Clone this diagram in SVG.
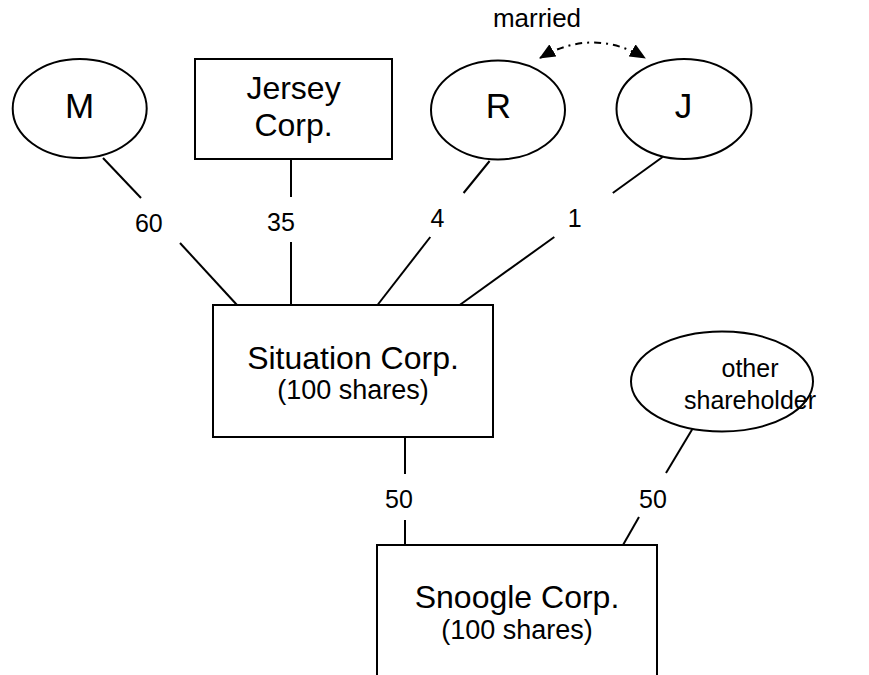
<svg xmlns="http://www.w3.org/2000/svg" width="869" height="675" viewBox="0 0 869 675">
<style>
.shape{fill:#fff;stroke:#000;stroke-width:2}
.ln{stroke:#000;stroke-width:2;fill:none}
text{font-family:"Liberation Sans",Arial,sans-serif;fill:#000;text-anchor:middle}
.big{font-size:35px}
.nm{font-size:32px}
.sub{font-size:27px}
.lbl{font-size:25px}
</style>
<defs>
<marker id="ah" viewBox="0 0 16 14" refX="15" refY="7" markerWidth="16" markerHeight="14" markerUnits="userSpaceOnUse" orient="auto-start-reverse">
<path d="M0,0 L16,7 L0,14 Z" fill="#000"/>
</marker>
</defs>
<rect width="869" height="675" fill="#fff"/>
<g id="connectors">
<line class="ln" x1="103" y1="158" x2="141" y2="198"/>
<line class="ln" x1="180" y1="243" x2="237" y2="305"/>
<line class="ln" x1="291" y1="159" x2="291" y2="197"/>
<line class="ln" x1="291" y1="242" x2="291" y2="305"/>
<line class="ln" x1="489.6" y1="161" x2="463.6" y2="193"/>
<line class="ln" x1="430.3" y1="237" x2="377.5" y2="305"/>
<line class="ln" x1="662.6" y1="157" x2="612.8" y2="193"/>
<line class="ln" x1="554.3" y1="237" x2="459.7" y2="305"/>
<line class="ln" x1="405" y1="437" x2="405" y2="474"/>
<line class="ln" x1="405" y1="520" x2="405" y2="545"/>
<line class="ln" x1="693" y1="428" x2="666" y2="473"/>
<line class="ln" x1="639" y1="517" x2="623" y2="545"/>
<path class="ln" d="M540,58 Q592.5,27 645,58" stroke-dasharray="7 5 2 5" marker-start="url(#ah)" marker-end="url(#ah)"/>
<text class="lbl" x="148.8" y="232">60</text>
<text class="lbl" x="281" y="231">35</text>
<text class="lbl" x="437.5" y="227">4</text>
<text class="lbl" x="574.6" y="227">1</text>
<text class="lbl" x="399" y="508">50</text>
<text class="lbl" x="653" y="508">50</text>
<text class="lbl" x="537" y="27" style="font-size:26px">married</text>
</g>
<g id="M">
<ellipse class="shape" cx="79.7" cy="108.5" rx="67" ry="49.5"/>
<text class="big" x="79.5" y="118">M</text>
</g>
<g id="Jersey">
<rect class="shape" x="195" y="59" width="197" height="100"/>
<text class="nm" x="293.5" y="99">Jersey</text>
<text class="nm" x="293.5" y="136">Corp.</text>
</g>
<g id="R">
<ellipse class="shape" cx="498" cy="110" rx="67" ry="49.5"/>
<text class="big" x="498.3" y="118">R</text>
</g>
<g id="J">
<ellipse class="shape" cx="684" cy="109" rx="67.5" ry="50"/>
<text class="big" x="683.5" y="118">J</text>
</g>
<g id="Situation">
<rect class="shape" x="213" y="305" width="280" height="132"/>
<text class="nm" x="353" y="369">Situation Corp.</text>
<text class="sub" x="353" y="399">(100 shares)</text>
</g>
<g id="Other">
<ellipse class="shape" cx="722" cy="381.5" rx="91" ry="50"/>
<text class="lbl" x="750" y="377">other</text>
<text class="lbl" x="750" y="409">shareholder</text>
</g>
<g id="Snoogle">
<rect class="shape" x="377" y="545" width="280" height="200"/>
<text class="nm" x="517" y="608">Snoogle Corp.</text>
<text class="sub" x="517" y="639">(100 shares)</text>
</g>
</svg>
